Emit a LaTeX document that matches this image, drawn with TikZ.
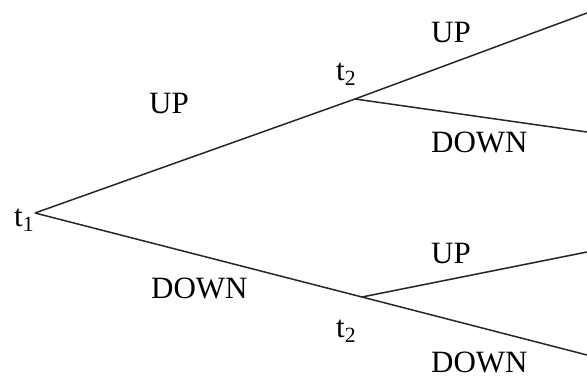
\documentclass[tikz,border=0pt]{standalone}
\usepackage{fontspec}
\setmainfont{Liberation Serif}
\begin{document}
\begin{tikzpicture}[x=1pt,y=-1pt,
  lbl/.style={anchor=base west,inner sep=0pt,font=\fontsize{31}{33}\selectfont},
  branch/.style={line width=1.5pt,draw=black!85}]
\useasboundingbox (0,0) rectangle (587,378);
\coordinate (R) at (35,213);
\coordinate (A) at (355,99);
\coordinate (B) at (362,297);
\coordinate (E1) at (587,13);
\coordinate (E2) at (587,132);
\coordinate (E3) at (587,252);
\coordinate (E4) at (587,355);
\draw[branch] (R) -- (A);
\draw[branch] (R) -- (B);
\draw[branch] (A) -- (E1);
\draw[branch] (A) -- (E2);
\draw[branch] (B) -- (E3);
\draw[branch] (B) -- (E4);
\node[lbl] (t1) at (14,226) {t$_{\mathrm{1}}$};
\node[lbl] (t2a) at (336,80) {t$_{\mathrm{2}}$};
\node[lbl] (t2b) at (336,337) {t$_{\mathrm{2}}$};
\node[lbl] (u1) at (149,113) {UP};
\node[lbl] (d1) at (151,298) {DOWN};
\node[lbl] (u2) at (431,42) {UP};
\node[lbl] (d2) at (431,152) {DOWN};
\node[lbl] (u3) at (431,263) {UP};
\node[lbl] (d3) at (431,372) {DOWN};
\end{tikzpicture}
\end{document}
